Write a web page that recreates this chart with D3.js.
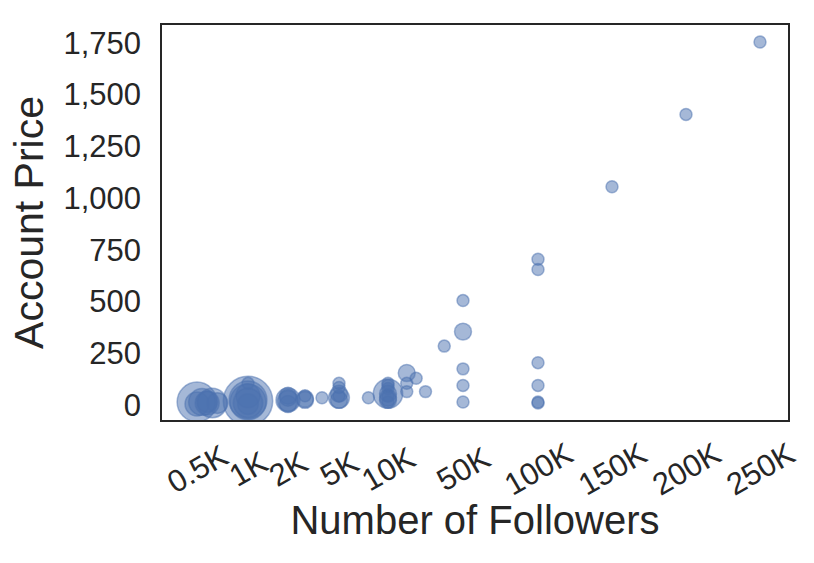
<!DOCTYPE html>
<html>
<head>
<meta charset="utf-8">
<script src="https://cdn.jsdelivr.net/npm/d3@7"></script>
<style>
    body { margin: 0; background: #fff; }
    #scatter { width: 814px; height: 563px; }
    text { font-family: "Liberation Sans", Arial, sans-serif; fill: #262626; }
</style>
</head>
<body>
<div id="scatter"></div>
<script>
// tick labels on the x axis
var xTickValues = [500, 1000, 2000, 5000, 10000, 50000, 100000, 150000, 200000, 250000];
var xTickLabels = ["0.5K", "1K", "2K", "5K", "10K", "50K", "100K", "150K", "200K", "250K"];
var yTickValues = [0, 250, 500, 750, 1000, 1250, 1500, 1750];

// one entry per marker: followers, price, number of accounts (marker size)
var followers = [500, 650, 500, 600, 700, 550, 600,
    1000, 1000, 1000, 1000, 1000, 1000, 1000,
    2000, 2000, 2000, 2000, 2000, 3000, 3000, 3000, 4000,
    5000, 5000, 5000, 5000, 5000, 5000, 8000,
    10000, 10000, 10000, 10000, 10000, 10000, 10000, 10000, 10000,
    20000, 20000, 20000, 25000, 30000, 40000,
    50000, 50000, 50000, 50000, 50000,
    100000, 100000, 100000, 100000, 100000, 100000,
    150000, 200000, 250000];
var price = [10, 5, 0, 10, 5, 10, 5,
    15, 10, 40, 100, 0, 20, 5,
    20, 40, 0, 15, 30, 25, 40, 20, 30,
    30, 100, 80, 50, 20, 40, 30,
    50, 100, 75, 50, 20, 10, 40, 30, 90,
    150, 100, 60, 125, 60, 280,
    500, 350, 170, 90, 10,
    700, 650, 200, 90, 10, 5,
    1050, 1400, 1750];
var accounts = [11, 6, 4, 3, 3, 5, 4,
    17, 9, 4, 1, 3, 10, 6,
    4, 2, 2, 3, 2, 2, 1, 2, 1,
    3, 1, 1, 2, 2, 1, 1,
    6, 1, 1, 2, 2, 1, 1, 2, 1,
    2, 1, 1, 1, 1, 1,
    1, 2, 1, 1, 1,
    1, 1, 1, 1, 1, 1,
    1, 1, 1];

var data = followers.map(function (f, i) {
    return { followers: f, price: price[i], accounts: accounts[i] };
});

var width = document.getElementById('scatter').clientWidth;
var height = document.getElementById('scatter').clientHeight;

var margin = {
    top: 24,
    bottom: 142,
    left: 161,
    right: 25
}

var svg = d3.select('#scatter')
    .append('svg')
    .attr('width', width)
    .attr('height', height)
    .append('g')
    .attr('transform', 'translate(' + margin.left + ',' + margin.top + ')');

width = width - margin.left - margin.right;
height = height - margin.top - margin.bottom;

// the follower axis is stretched piece by piece between its ticks
var x_scale = d3.scaleLinear()
    .domain(xTickValues)
    .range([36, 87, 127, 178, 227, 302, 377, 451, 525, 599]);

var y_scale = d3.scaleLinear()
    .domain([-82, 1837])
    .range([height, 0]);

var r_scale = d3.scaleSqrt()
    .domain([0, 17])
    .range([0, 24.7]);

svg.append('clipPath')
    .attr('id', 'plotArea')
    .append('rect')
    .attr('width', width)
    .attr('height', height);

svg.append('g')
    .attr('clip-path', 'url(#plotArea)')
    .selectAll('circle')
    .data(data)
    .enter()
    .append('circle')
    .attr('cx', d => x_scale(d.followers))
    .attr('cy', d => y_scale(d.price))
    .attr('r', d => r_scale(d.accounts))
    .attr('fill', '#4c72b0')
    .attr('fill-opacity', 0.5)
    .attr('stroke', '#4c72b0')
    .attr('stroke-opacity', 0.5)
    .attr('stroke-width', 1.5);

// axes without tick marks (seaborn white style)
var y_axis = d3.axisLeft(y_scale)
    .tickValues(yTickValues)
    .tickFormat(d3.format(','))
    .tickSize(0)
    .tickPadding(20);

var x_axis = d3.axisBottom(x_scale)
    .tickValues(xTickValues)
    .tickFormat((d, i) => xTickLabels[i])
    .tickSize(0);

var gy = svg.append('g')
    .attr('class', 'y axis')
    .call(y_axis);
gy.select('.domain').remove();
gy.selectAll('text')
    .style('font-size', '31px')
    .attr('dy', '0.36em');

var gx = svg.append('g')
    .attr('class', 'x axis')
    .attr('transform', 'translate(0,' + height + ')')
    .call(x_axis);
gx.select('.domain').remove();
gx.selectAll('text')
    .style('font-size', '31px')
    .attr('text-anchor', 'middle')
    .attr('dominant-baseline', 'central')
    .attr('y', 0)
    .attr('dy', 0)
    .attr('transform', 'translate(0,48) rotate(-30)');

// frame
svg.append('rect')
    .attr('width', width)
    .attr('height', height)
    .attr('fill', 'none')
    .attr('stroke', '#262626')
    .attr('stroke-width', 2);

svg.append('text')
    .attr('x', width / 2)
    .attr('y', height + 113)
    .attr('text-anchor', 'middle')
    .style('font-size', '40px')
    .text('Number of Followers');

svg.append('text')
    .attr('transform', 'translate(' + (43 - margin.left) + ',' + (height / 2) + ') rotate(-90)')
    .attr('text-anchor', 'middle')
    .style('font-size', '41px')
    .text('Account Price');
</script>
</body>
</html>
